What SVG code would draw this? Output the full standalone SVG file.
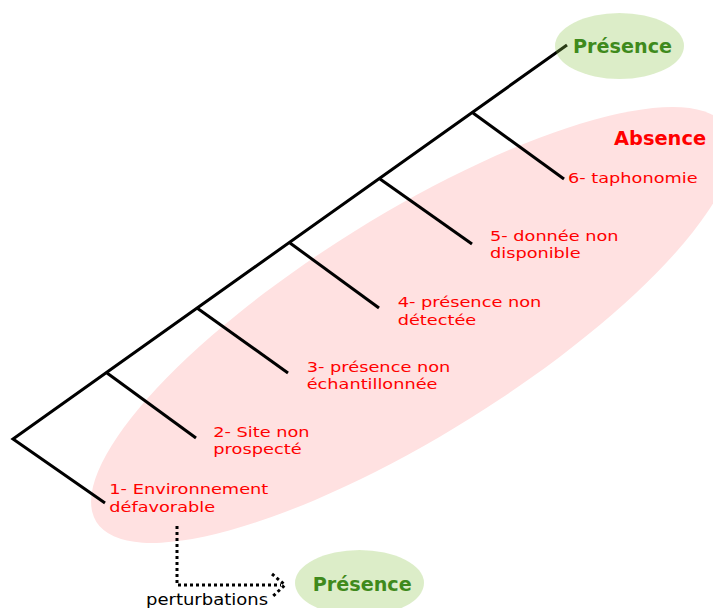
<svg xmlns="http://www.w3.org/2000/svg" width="713" height="608" viewBox="0 0 713 608">
  <style>
    .bg { fill: #ffffff; }
    .absence-zone { fill: #ffe1e1; }
    .presence-zone { fill: #8bc34a; fill-opacity: 0.3; }
    .branch { stroke: #000; stroke-width: 3; stroke-linecap: butt; fill: none; }
    .dotted { stroke: #000; stroke-width: 3; stroke-dasharray: 3 3; fill: none; }
    .cause { font-family: "DejaVu Sans", Verdana, sans-serif; font-size: 14.5px; fill: #ff0000; }
    .title-green { font-family: "DejaVu Sans", Verdana, sans-serif; font-weight: bold; font-size: 19.2px; fill: #3f8a1c; }
    .title-red { font-family: "DejaVu Sans", Verdana, sans-serif; font-weight: bold; font-size: 19.4px; fill: #ff0000; }
    .note { font-family: "DejaVu Sans", Verdana, sans-serif; font-size: 16px; fill: #000; }
  </style>

  <rect class="bg" x="0" y="0" width="713" height="608"/>

  <!-- absence area behind the tree -->
  <g id="absence">
    <ellipse class="absence-zone" cx="412" cy="325" rx="372" ry="110" transform="rotate(-31.96 412 325)"/>
    <text class="title-red" x="614" y="145">Absence</text>
  </g>

  <!-- tree branches and the dotted link -->
  <g id="connectors">
    <polyline class="branch" points="567,45 13,439 105,503"/>
    <line class="branch" x1="107" y1="373" x2="196" y2="438"/>
    <line class="branch" x1="197" y1="308" x2="288" y2="373"/>
    <line class="branch" x1="290" y1="243" x2="379" y2="308"/>
    <line class="branch" x1="380" y1="179" x2="472" y2="244"/>
    <line class="branch" x1="473" y1="113" x2="564" y2="179"/>
    <polyline class="dotted" points="177,526 177,585 281,585"/>
    <polyline class="dotted" points="272,574 285,585 272,597"/>
  </g>

  <g id="presence-top">
    <ellipse class="presence-zone" cx="619.5" cy="46" rx="64.5" ry="33"/>
    <text class="title-green" x="573" y="53.3">Présence</text>
  </g>

  <g id="presence-bottom">
    <ellipse class="presence-zone" cx="359.5" cy="583" rx="64.5" ry="33"/>
    <text class="title-green" x="312.7" y="590.7" font-size="18.6">Présence</text>
  </g>

  <g id="cause-1">
    <text class="cause" x="109.3" y="494" textLength="159" lengthAdjust="spacingAndGlyphs">1- Environnement</text>
    <text class="cause" x="109.3" y="511.5" textLength="105.8" lengthAdjust="spacingAndGlyphs">défavorable</text>
  </g>
  <g id="cause-2">
    <text class="cause" x="213.3" y="436.7" textLength="96.3" lengthAdjust="spacingAndGlyphs">2- Site non</text>
    <text class="cause" x="213.3" y="454.2" textLength="88.3" lengthAdjust="spacingAndGlyphs">prospecté</text>
  </g>
  <g id="cause-3">
    <text class="cause" x="306.7" y="371.5" textLength="143.7" lengthAdjust="spacingAndGlyphs">3- présence non</text>
    <text class="cause" x="306.7" y="389" textLength="130.8" lengthAdjust="spacingAndGlyphs">échantillonnée</text>
  </g>
  <g id="cause-4">
    <text class="cause" x="397.7" y="307" textLength="143.7" lengthAdjust="spacingAndGlyphs">4- présence non</text>
    <text class="cause" x="397.7" y="324.5" textLength="78.5" lengthAdjust="spacingAndGlyphs">détectée</text>
  </g>
  <g id="cause-5">
    <text class="cause" x="490" y="240.7" textLength="128.6" lengthAdjust="spacingAndGlyphs">5- donnée non</text>
    <text class="cause" x="490" y="258.2" textLength="90.7" lengthAdjust="spacingAndGlyphs">disponible</text>
  </g>
  <g id="cause-6">
    <text class="cause" x="568" y="183" textLength="129.6" lengthAdjust="spacingAndGlyphs">6- taphonomie</text>
  </g>

  <g id="perturbations">
    <text class="note" x="146" y="605" textLength="122" lengthAdjust="spacingAndGlyphs">perturbations</text>
  </g>
</svg>
